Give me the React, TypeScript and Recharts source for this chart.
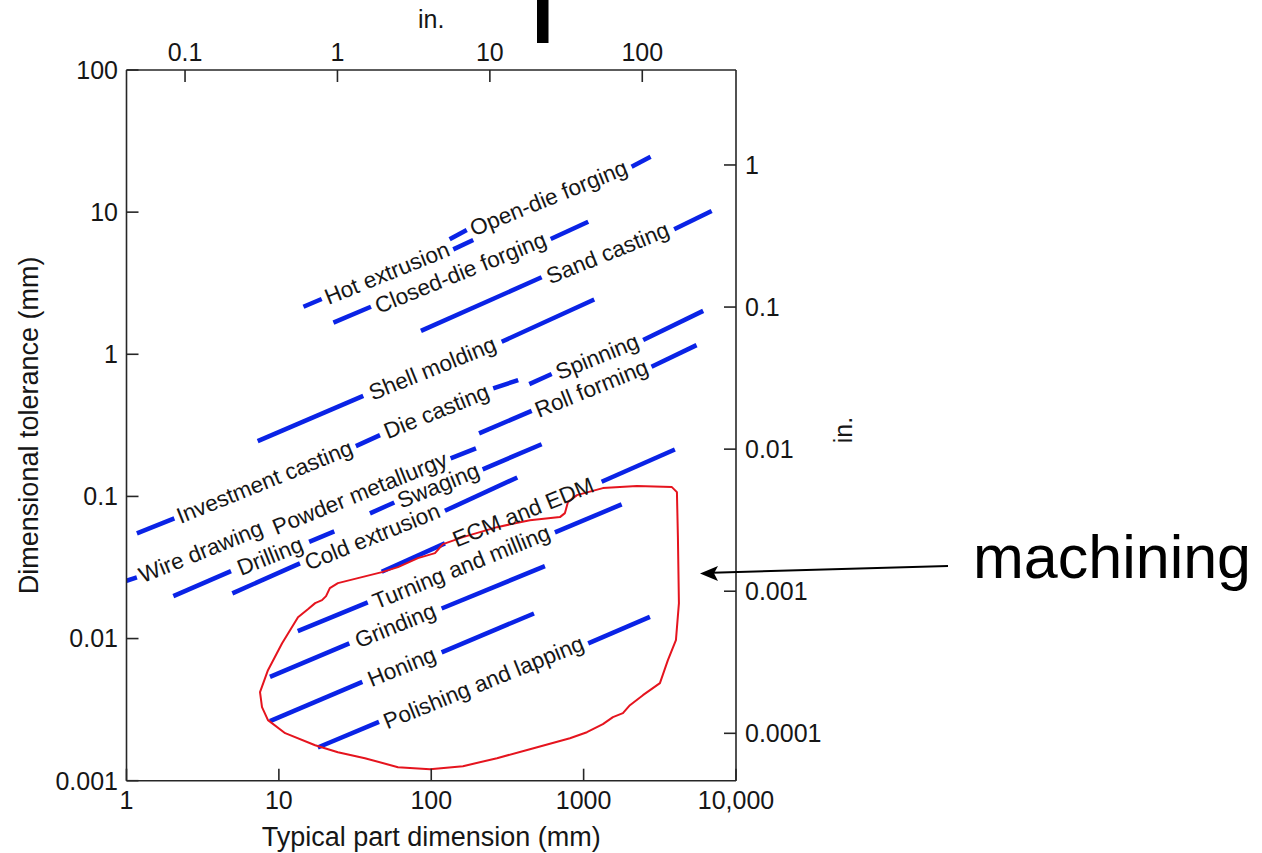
import React from "react";
import { ComposedChart, Line, Scatter, XAxis, YAxis, Label } from "recharts";

const FONT = '"Liberation Sans", Arial, Helvetica, sans-serif';
const BLUE = "#0a23e6";
const RED = "#e5141e";
const INK = "#161616";
const LABEL_ANGLE = -22;

// bottom / left axes (mm)
const mmXTicks = [1, 10, 100, 1000, 10000];
const mmYTicks = [0.001, 0.01, 0.1, 1, 10, 100];
// top / right axes (in.), as printed on the figure
const inXTicks = [0.1, 1, 10, 100];
const inYTicks = [0.0001, 0.001, 0.01, 0.1, 1];

// blue pieces of each process band: [process, x1 mm, tol1 mm, x2 mm, tol2 mm]
const processSegments: [string, number, number, number, number][] = [
  ["Hot extrusion", 14.5, 2.16, 19.1, 2.45],
  ["Hot extrusion", 139.5, 5.47, 188.6, 6.36],
  ["Open-die forging", 132, 6.44, 171, 7.48],
  ["Open-die forging", 2065, 20.9, 2750, 24.5],
  ["Closed-die forging", 22.8, 1.67, 40.2, 2.16],
  ["Closed-die forging", 608, 6.47, 1072, 8.56],
  ["Sand casting", 85.6, 1.46, 530, 3.48],
  ["Sand casting", 3930, 7.57, 6920, 10.2],
  ["Shell molding", 7.26, 0.245, 35.8, 0.51],
  ["Shell molding", 290, 1.225, 1174, 2.43],
  ["Investment casting", 1.17, 0.0549, 2.06, 0.07],
  ["Die casting", 32.0, 0.226, 46.1, 0.27],
  ["Die casting", 255, 0.575, 372, 0.659],
  ["Spinning", 440, 0.617, 617, 0.726],
  ["Spinning", 2460, 1.26, 6090, 2.02],
  ["Roll forming", 206, 0.2775, 456, 0.4],
  ["Roll forming", 2790, 0.817, 5510, 1.16],
  ["Wire drawing", 1.0, 0.0255, 1.17, 0.0269],
  ["Powder metallurgy", 134, 0.185, 196.5, 0.218],
  ["Drilling", 2.03, 0.0199, 4.85, 0.0298],
  ["Drilling", 15.8, 0.0479, 23.1, 0.0567],
  ["Swaging", 39.6, 0.076, 57.2, 0.0907],
  ["Swaging", 217.5, 0.155, 530, 0.233],
  ["Cold extrusion", 4.95, 0.0208, 13.75, 0.0338],
  ["Cold extrusion", 123, 0.0792, 367, 0.136],
  ["ECM and EDM", 47.3, 0.0295, 123, 0.0467],
  ["ECM and EDM", 1313, 0.1267, 3970, 0.214],
  ["Turning and milling", 13.3, 0.01127, 38.3, 0.01795],
  ["Turning and milling", 648, 0.0558, 1776, 0.0879],
  ["Grinding", 8.74, 0.005375, 29.0, 0.00924],
  ["Grinding", 117, 0.01628, 557, 0.0323],
  ["Honing", 8.74, 0.002623, 35.3, 0.004957],
  ["Honing", 117, 0.00799, 472, 0.01502],
  ["Polishing and lapping", 18.0, 0.001713, 45.4, 0.002594],
  ["Polishing and lapping", 1072, 0.00924, 2723, 0.01421],
];

// where each process name sits on its band: [text, x mm, tol mm]
const processLabels: [string, number, number][] = [
  ["Hot extrusion", 51.4, 3.7],
  ["Open-die forging", 591, 12.5],
  ["Closed-die forging", 156, 3.73],
  ["Sand casting", 1443, 5.13],
  ["Shell molding", 102, 0.791],
  ["Investment casting", 8.07, 0.126],
  ["Die casting", 108.5, 0.394],
  ["Spinning", 1232, 0.956],
  ["Roll forming", 1128, 0.572],
  ["Wire drawing", 3.08, 0.0406],
  ["Powder metallurgy", 34.1, 0.1046],
  ["Drilling", 8.77, 0.0378],
  ["Swaging", 111.5, 0.1186],
  ["Cold extrusion", 41.1, 0.0517],
  ["ECM and EDM", 402, 0.0769],
  ["Turning and milling", 158, 0.0317],
  ["Grinding", 58.2, 0.01227],
  ["Honing", 64.2, 0.00629],
  ["Polishing and lapping", 221, 0.00489],
];

// hand-drawn red loop around the machining processes: [x mm, tol mm]
const machiningLoop: [number, number][] = [
  [15.5, 0.0161], [17.3, 0.01775], [19.2, 0.01863], [20.4, 0.01988], [21.6, 0.02262],
  [24.4, 0.02454], [33.0, 0.02661], [47.5, 0.02933], [60.5, 0.03181], [81.8, 0.03679],
  [105.8, 0.0399], [119.4, 0.04617], [161.4, 0.05172], [270, 0.06078], [444, 0.06808],
  [699, 0.07152], [754, 0.07631], [789, 0.0912], [904, 0.1021], [1338, 0.1144],
  [2237, 0.1182], [3796, 0.1163], [4095, 0.1072], [4157, 0.05172], [4221, 0.01775],
  [4034, 0.009743], [3573, 0.007047], [3168, 0.004853], [2450, 0.003996], [2013, 0.003398],
  [1811, 0.002985], [1557, 0.002798], [1338, 0.002498], [1051, 0.002194], [813, 0.001991],
  [444, 0.001666], [270, 0.00144], [161.4, 0.001265], [98.1, 0.001205], [60.5, 0.001245],
  [36.7, 0.00144], [24.4, 0.001587], [17.3, 0.001777], [11.0, 0.002159], [8.48, 0.002666],
  [7.75, 0.003292], [7.52, 0.004195], [8.48, 0.005992], [10.5, 0.009281], [13.35, 0.01414],
  [15.5, 0.0161],
];

const segmentData = processSegments.map(([name, x1, y1, x2, y2]) => ({
  name,
  points: [{ x: x1, y: y1 }, { x: x2, y: y2 }],
}));
const labelData = processLabels.map(([name, x, y]) => ({ name, x, y }));
const loopData = machiningLoop.map(([x, y]) => ({ x, y }));
// invisible series so the inch axes get registered
const inchAnchor = inXTicks.map((x, i) => ({ x, y: inYTicks[i + 1] }));

const fmtTick = (v: number) => (v === 10000 ? "10,000" : String(v));

const tickStyle = { fontSize: 25, fill: INK, fontFamily: FONT };
const frame = { stroke: "#262626", strokeWidth: 1.6 };

function ProcessLabel(props: any) {
  const { cx, cy, payload } = props;
  return (
    <text
      x={cx}
      y={cy}
      dy="0.32em"
      transform={`rotate(${LABEL_ANGLE} ${cx} ${cy})`}
      textAnchor="middle"
      fontSize={22.5}
      fontFamily={FONT}
      fill={INK}
    >
      {payload.name}
    </text>
  );
}

export default function App() {
  return (
    <div style={{ position: "absolute", left: 0, top: 0, width: 1262, height: 853, background: "#fff" }}>
      <ComposedChart width={1262} height={853} margin={{ top: 0, right: 0, bottom: 0, left: 0 }}>
        <XAxis
          xAxisId="mm"
          dataKey="x"
          type="number"
          scale="log"
          domain={[1, 10000]}
          allowDataOverflow
          ticks={mmXTicks}
          interval={0}
          tickFormatter={fmtTick}
          height={72.3}
          tickSize={-12}
          tickMargin={23}
          tick={tickStyle}
          axisLine={frame}
          tickLine={frame}
        >
          <Label
            content={(p: any) => (
              <text
                x={p.viewBox.x + p.viewBox.width / 2}
                y={p.viewBox.y + 65}
                textAnchor="middle"
                fontSize={27}
                fontFamily={FONT}
                fill={INK}
              >
                Typical part dimension (mm)
              </text>
            )}
          />
        </XAxis>
        <XAxis
          xAxisId="in"
          dataKey="x"
          orientation="top"
          type="number"
          scale="log"
          domain={[0.0413, 412]}
          allowDataOverflow
          ticks={inXTicks}
          interval={0}
          tickFormatter={fmtTick}
          height={70}
          tickSize={-12}
          tickMargin={21}
          tick={tickStyle}
          axisLine={frame}
          tickLine={frame}
        >
          <Label
            content={(p: any) => (
              <text
                x={p.viewBox.x + p.viewBox.width / 2}
                y={p.viewBox.y + 28}
                textAnchor="middle"
                fontSize={25}
                fontFamily={FONT}
                fill={INK}
              >
                in.
              </text>
            )}
          />
        </XAxis>
        <YAxis
          yAxisId="mm"
          dataKey="y"
          type="number"
          scale="log"
          domain={[0.001, 100]}
          allowDataOverflow
          ticks={mmYTicks}
          interval={0}
          tickFormatter={fmtTick}
          width={126.5}
          tickSize={-12}
          tickMargin={20.5}
          tick={tickStyle}
          axisLine={frame}
          tickLine={frame}
        >
          <Label
            content={(p: any) => {
              const x = p.viewBox.x + 38;
              const y = p.viewBox.y + p.viewBox.height / 2;
              return (
                <text
                  x={x}
                  y={y}
                  transform={`rotate(-90 ${x} ${y})`}
                  textAnchor="middle"
                  fontSize={27}
                  fontFamily={FONT}
                  fill={INK}
                >
                  Dimensional tolerance (mm)
                </text>
              );
            }}
          />
        </YAxis>
        <YAxis
          yAxisId="in"
          dataKey="y"
          orientation="right"
          type="number"
          scale="log"
          domain={[0.0000464, 4.66]}
          allowDataOverflow
          ticks={inYTicks}
          interval={0}
          tickFormatter={fmtTick}
          width={526}
          tickSize={-12}
          tickMargin={21}
          tick={tickStyle}
          axisLine={frame}
          tickLine={frame}
        >
          <Label
            content={(p: any) => {
              const x = p.viewBox.x + 116;
              const y = 430;
              return (
                <text
                  x={x}
                  y={y}
                  transform={`rotate(-90 ${x} ${y})`}
                  textAnchor="middle"
                  fontSize={25}
                  fontFamily={FONT}
                  fill={INK}
                >
                  in.
                </text>
              );
            }}
          />
        </YAxis>

        <Line
          data={inchAnchor}
          xAxisId="in"
          yAxisId="in"
          dataKey="y"
          stroke="none"
          dot={false}
          activeDot={false}
          legendType="none"
          isAnimationActive={false}
        />

        {segmentData.map((s, i) => (
          <Line
            key={`seg-${i}`}
            name={s.name}
            data={s.points}
            xAxisId="mm"
            yAxisId="mm"
            dataKey="y"
            type="linear"
            stroke={BLUE}
            strokeWidth={4.5}
            dot={false}
            activeDot={false}
            legendType="none"
            isAnimationActive={false}
          />
        ))}

        <Line
          data={loopData}
          xAxisId="mm"
          yAxisId="mm"
          dataKey="y"
          type="linear"
          stroke={RED}
          strokeWidth={2}
          strokeLinejoin="round"
          dot={false}
          activeDot={false}
          legendType="none"
          isAnimationActive={false}
        />

        <Scatter
          data={labelData}
          xAxisId="mm"
          yAxisId="mm"
          shape={ProcessLabel}
          legendType="none"
          isAnimationActive={false}
        />
      </ComposedChart>

      <svg
        width={1262}
        height={853}
        style={{ position: "absolute", left: 0, top: 0, pointerEvents: "none" }}
      >
        <rect x={537} y={0} width={11.5} height={43} fill="#000" />
        <line x1={948} y1={566} x2={712} y2={572.7} stroke="#000" strokeWidth={2} />
        <polygon points="700,573.4 718,566 714,573.2 718,581" fill="#000" />
        <text x={973} y={578} fontSize={61} fontFamily={FONT} fill="#000">
          machining
        </text>
      </svg>
    </div>
  );
}
